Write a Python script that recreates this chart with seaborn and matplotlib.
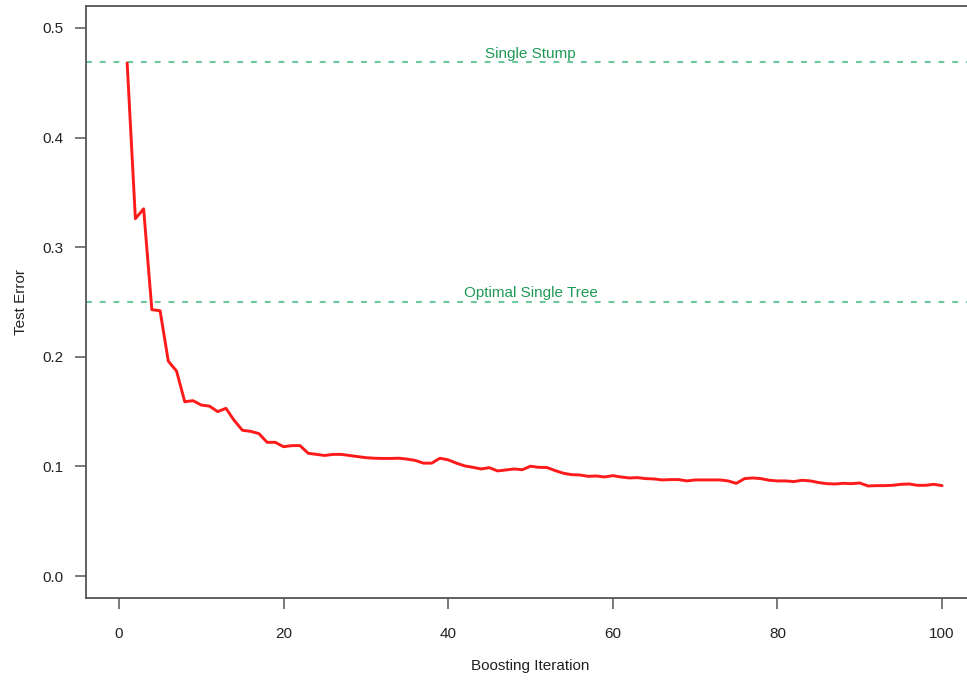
import matplotlib
matplotlib.use("Agg")
import matplotlib.pyplot as plt
import seaborn as sns
import pandas as pd
import numpy as np

iterations = list(range(1, 101))
test_error = [
    0.468, 0.326, 0.335, 0.243, 0.242, 0.196, 0.187, 0.159, 0.160, 0.156,
    0.155, 0.150, 0.153, 0.142, 0.133, 0.132, 0.130, 0.122, 0.122, 0.118,
    0.119, 0.119, 0.112, 0.111, 0.110, 0.111, 0.111, 0.110, 0.109, 0.108,
    0.1075, 0.1073, 0.1073, 0.1075, 0.1067, 0.1055, 0.103, 0.103, 0.1075, 0.106,
    0.103, 0.1005, 0.0992, 0.0977, 0.0989, 0.0959, 0.0968, 0.0977, 0.097, 0.1002,
    0.0992, 0.099, 0.0962, 0.0938, 0.0925, 0.0922, 0.091, 0.0913, 0.0904, 0.0916,
    0.0904, 0.0895, 0.0898, 0.0889, 0.0886, 0.0877, 0.088, 0.088, 0.0868, 0.0877,
    0.0877, 0.0877, 0.0877, 0.0868, 0.0846, 0.0889, 0.0895, 0.0889, 0.0874, 0.0868,
    0.0868, 0.0862, 0.0874, 0.0868, 0.0853, 0.0843, 0.084, 0.0846, 0.0843, 0.0849,
    0.0822, 0.0825, 0.0825, 0.0828, 0.0837, 0.084, 0.0828, 0.0828, 0.0837, 0.0825,
]
ref_names = ["Single Stump", "Optimal Single Tree"]
ref_values = [0.4685, 0.2502]
x_ticks = [0, 20, 40, 60, 80, 100]
y_ticks = [0.0, 0.1, 0.2, 0.3, 0.4, 0.5]

sns.set_theme(style="white")
plt.rcParams["font.family"] = ["Liberation Sans", "DejaVu Sans"]

df = pd.DataFrame({"Boosting Iteration": iterations, "Test Error": test_error})

fig = plt.figure(figsize=(9.67, 6.81), dpi=100)
ax = fig.add_axes([86 / 967, 1 - 598 / 681, 889 / 967, 592 / 681])

line_green = "#6cc79a"
text_green = "#1e9a55"
for name, val in zip(ref_names, ref_values):
    ax.axhline(val, color=line_green, lw=1.5, ls=(0, (2.8, 3.8)), zorder=1)
    ax.text(50, val + 0.0015, name, color=text_green, fontsize=11,
            ha="center", va="bottom")

sns.lineplot(data=df, x="Boosting Iteration", y="Test Error", ax=ax,
             color="#ff1a1a", lw=2.1, zorder=3)

ax.set_xlim(-4, 104)
ax.set_ylim(-0.02, 0.52)
ax.set_xticks(x_ticks)
ax.set_xticklabels([str(t) for t in x_ticks])
ax.set_yticks(y_ticks)
ax.set_yticklabels([f"{t:.1f}" for t in y_ticks])

spine_col = "#555555"
for s in ["left", "bottom", "top", "right"]:
    ax.spines[s].set_visible(True)
    ax.spines[s].set_color(spine_col)
    ax.spines[s].set_linewidth(1.3)

ax.tick_params(axis="both", direction="out", length=8, width=1.1,
               color=spine_col, labelsize=11, labelcolor="#222222",
               left=True, bottom=True)
ax.tick_params(axis="x", pad=13)
ax.tick_params(axis="y", pad=8)

ax.set_xlabel("Boosting Iteration", fontsize=11, color="#222222", labelpad=13)
ax.set_ylabel("Test Error", fontsize=11, color="#222222")
ax.yaxis.set_label_coords(-58 / 889, 0.5)

fig.savefig("out.png", dpi=100)
